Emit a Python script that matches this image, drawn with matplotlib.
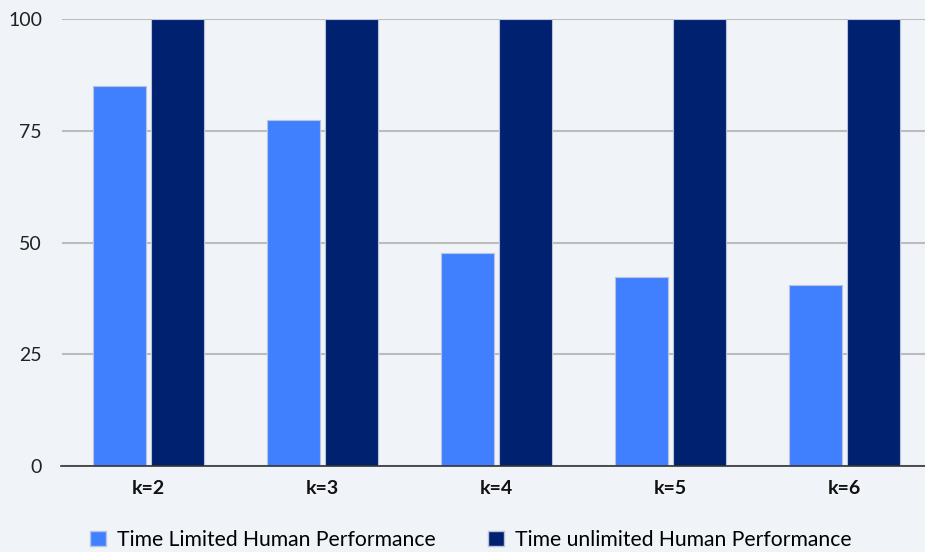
import matplotlib.pyplot as plt
import numpy as np
from matplotlib.patches import Patch

categories = ['k=2', 'k=3', 'k=4', 'k=5', 'k=6']
time_limited = [85, 77.3, 47.7, 42.3, 40.5]
time_unlimited = [100, 100, 100, 100, 100]
labels = ['Time Limited Human Performance', 'Time unlimited Human Performance']
yticks = [0, 25, 50, 75, 100]

bg = '#f0f3f7'
light = '#4080ff'
dark = '#002070'

plt.rcParams['font.family'] = ['Lato', 'DejaVu Sans']

fig = plt.figure(figsize=(9.25, 5.52), dpi=100, facecolor=bg)
# plot area runs a bit past the right edge of the picture
ax = fig.add_axes([61.5 / 925, 1 - 466 / 552, 870 / 925, 447 / 552])
ax.set_facecolor(bg)

x = np.arange(len(categories))
w = 0.305
ax.bar(x - 0.167, time_limited, w, color=light, edgecolor='#b8c4dc', linewidth=0.8, zorder=3)
ax.bar(x + 0.168, time_unlimited, w, color=dark, edgecolor='#b8c4dc', linewidth=0.8, zorder=3)

ax.set_xlim(-0.5, 4.5)
ax.set_ylim(0, 100)
ax.set_yticks(yticks)
ax.set_yticklabels([str(v) for v in yticks], fontsize=14, color='#222222')
ax.set_xticks(x)
ax.set_xticklabels(categories, fontsize=14, fontweight='bold', color='#111111')
ax.tick_params(axis='both', length=0)
ax.tick_params(axis='y', pad=14)
ax.tick_params(axis='x', pad=10)

ax.grid(axis='y', color='#bcbcbc', linewidth=1.5, zorder=0)
for s in ['top', 'right', 'left']:
    ax.spines[s].set_visible(False)
ax.spines['bottom'].set_color('#333333')
ax.spines['bottom'].set_linewidth(1.2)
ax.spines['bottom'].set_zorder(4)

handles = [Patch(facecolor=light, edgecolor='#b8c4dc'), Patch(facecolor=dark, edgecolor='#b8c4dc')]
fig.legend(handles, labels, loc='lower left', bbox_to_anchor=(71 / 925, -0.031), ncol=2,
           frameon=False, fontsize=15.2, handlelength=0.75, handleheight=0.75,
           handletextpad=0.55, columnspacing=2.45)

fig.savefig('out.png', dpi=100, facecolor=bg)
